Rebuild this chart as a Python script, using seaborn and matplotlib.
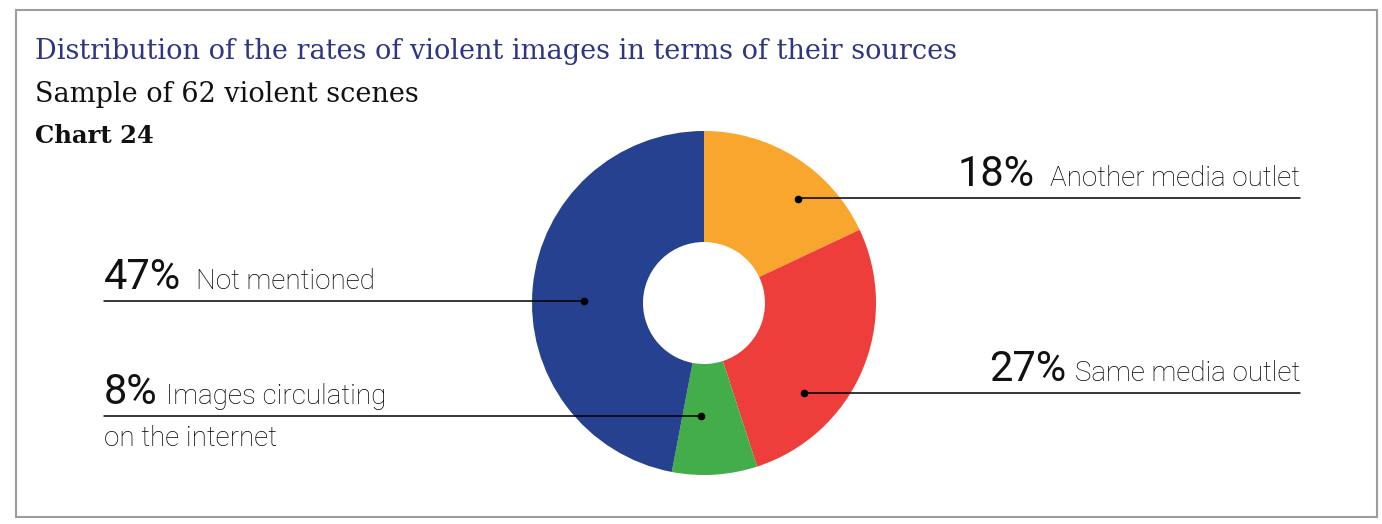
import matplotlib
matplotlib.use("Agg")
import matplotlib.pyplot as plt
import seaborn as sns
import numpy as np
from matplotlib.patches import Rectangle

# Source categories, in clockwise order from 12 o'clock
sources = ["Another media outlet", "Same media outlet",
           "Images circulating\non the internet", "Not mentioned"]
shares = [18, 27, 8, 47]
pct_labels = [f"{v}%" for v in shares]

title = "Distribution of the rates of violent images in terms of their sources"
subtitle = "Sample of 62 violent scenes"
chart_no = "Chart 24"

sns.set_theme(style="white")
plt.rcParams["font.family"] = ["Roboto", "DejaVu Sans"]
palette = sns.color_palette(["#F8A62D", "#EE3E3B", "#43AD4A", "#26418F"])

W, H = 1382, 524
fig = plt.figure(figsize=(W / 100, H / 100), dpi=100)
fig.patch.set_facecolor("white")
ax = fig.add_axes([0, 0, 1, 1])

# Donut, drawn in a pixel-like coordinate frame (y grows downward)
cx, cy, r_out, r_in = 704, 303, 172, 61
ax.pie(shares, colors=palette, startangle=-90, counterclock=True,
       center=(cx, cy), radius=r_out, frame=True,
       wedgeprops=dict(width=r_out - r_in, linewidth=0))
ax.set_xlim(0, W)
ax.set_ylim(H, 0)
ax.set_aspect("equal")
ax.axis("off")

# Outer frame
ax.add_patch(Rectangle((16, 10), 1361, 507, fill=False,
                       edgecolor="#9c9c9c", linewidth=1.5))

# Header
ax.text(35, 59, title, family="DejaVu Serif", fontsize=19.5,
        color="#2f3585", va="baseline", ha="left")
ax.text(35, 102, subtitle, family="DejaVu Serif", fontsize=19.5,
        color="#111111", va="baseline", ha="left")
ax.text(35, 143, chart_no, family="DejaVu Serif", fontsize=17.5,
        fontweight="bold", color="#111111", va="baseline", ha="left")

# Leader anchors (angle in degrees, distance from centre) and label rows
anchors = [(48, 140), (-42, 134), (-91.5, 113), (179, 120)]
line_y = [198, 393, 416, 301]
sides = ["right", "right", "left", "left"]
gaps = [15, 8, 8, 15]
x_right, x_left = 1300, 104
desc_size, pct_size = 20, 30
desc_style = dict(fontsize=desc_size, color="#000000", fontweight="light")

fig.canvas.draw()
rend = fig.canvas.get_renderer()

for src, pct, (ang, dist), ly, side, gap in zip(sources, pct_labels, anchors,
                                                 line_y, sides, gaps):
    a = np.deg2rad(ang)
    dx, dy = cx + dist * np.cos(a), cy - dist * np.sin(a)
    ax.plot([dx], [dy], "o", color="black", markersize=4.5, zorder=5)
    x_end = x_right if side == "right" else x_left
    ax.plot([dx, x_end], [ly, ly], color="black", linewidth=1.1, zorder=4)

    first, *rest = src.split("\n")
    base = ly - 12
    if side == "right":
        t = ax.text(x_right, base, first, ha="right", va="baseline",
                    **desc_style)
        bb = t.get_window_extent(rend)
        ax.text(bb.x0 - gap, base, pct, fontsize=pct_size, color="#111111",
                ha="right", va="baseline")
    else:
        p = ax.text(x_left, base, pct, fontsize=pct_size, color="#111111",
                    ha="left", va="baseline")
        bb = p.get_window_extent(rend)
        ax.text(bb.x1 + gap, base, first, ha="left", va="baseline",
                **desc_style)
    for i, line in enumerate(rest):
        ax.text(x_left if side == "left" else x_right, ly + 30 + 30 * i, line,
                ha=side, va="baseline", **desc_style)

fig.savefig("out.png", dpi=100, facecolor="white")
